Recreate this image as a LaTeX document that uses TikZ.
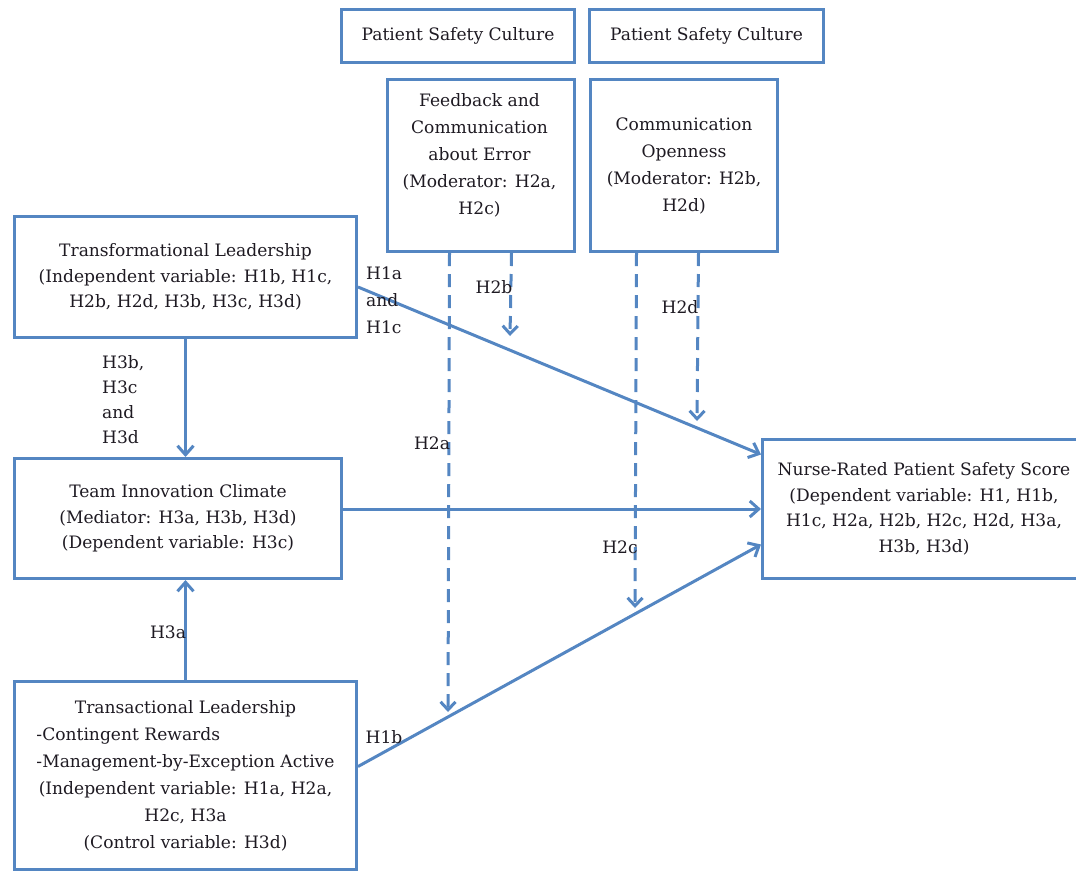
\documentclass[tikz,border=0pt]{standalone}
\usepackage{fontspec}
\setmainfont{DejaVu Serif}
\usetikzlibrary{arrows.meta,shadows}
\definecolor{lblue}{RGB}{84,134,194}
\definecolor{txtc}{RGB}{30,26,34}
\newcommand\myfs{\fontsize{17.1}{25.5}\selectfont}
\newcommand\myfsb{\fontsize{17.1}{27}\selectfont}
\begin{document}
\begin{tikzpicture}[x=1pt,y=-1pt,
  box/.style={draw=lblue, line width=3pt, fill=white, inner sep=0pt, text=txtc,
    font=\myfs, align=center, anchor=north west,
    drop shadow={shadow xshift=1.5pt, shadow yshift=-1.5pt, opacity=0.2}},
  txt/.style={text=txtc, font=\myfs, inner sep=0pt},
  arr/.style={draw=lblue, line width=3pt, -{Straight Barb[length=9pt,width=16pt]}},
  darr/.style={draw=lblue, line width=3pt, dash pattern=on 13pt off 8pt, -{Straight Barb[length=8pt,width=15pt]}}]
\useasboundingbox (0,0) rectangle (1076,871);
\clip (0,0) rectangle (1076,871);
% boxes
\node[box, minimum width=233pt, minimum height=53pt] (psc1) at (340,8) {Patient Safety Culture};
\node[box, minimum width=234pt, minimum height=53pt] (psc2) at (588,8) {Patient Safety Culture};
\node[box, minimum width=187pt, minimum height=172pt] (fb) at (386,78) {};
\node[txt, font=\myfsb, align=center] (fbt) at (479.5,155) {Feedback and\\Communication\\about Error\\(Moderator: H2a,\\H2c)};
\node[box, minimum width=187pt, minimum height=172pt, font=\myfsb] (co) at (589,78) {Communication\\Openness\\(Moderator: H2b,\\H2d)};
\node[box, minimum width=342pt, minimum height=121pt] (tl) at (13,215) {Transformational Leadership\\(Independent variable: H1b, H1c,\\H2b, H2d, H3b, H3c, H3d)};
\node[box, minimum width=327pt, minimum height=120pt] (tic) at (13,457) {Team Innovation Climate\\(Mediator: H3a, H3b, H3d)\\(Dependent variable: H3c)};
\node[box, minimum width=342pt, minimum height=188pt, font=\myfsb] (tr) at (13,680) {\begin{tabular}{@{}c@{}}Transactional Leadership\\ \multicolumn{1}{@{}l@{}}{-Contingent Rewards}\\ \multicolumn{1}{@{}l@{}}{-Management-by-Exception Active}\\ (Independent variable: H1a, H2a,\\ H2c, H3a\\ (Control variable: H3d)\end{tabular}};
\node[box, minimum width=323pt, minimum height=139pt] (nr) at (761,438) {Nurse-Rated Patient Safety Score\\(Dependent variable: H1, H1b,\\H1c, H2a, H2b, H2c, H2d, H3a,\\H3b, H3d)};
% solid arrows
\draw[arr] (tl.south) -- (tl.south |- tic.north);
\draw[arr] (tr.north) -- (tr.north |- tic.south);
\draw[arr] ([yshift=-10pt]tl.east) -- ([yshift=54.5pt]nr.west);
\draw[arr] (tic.east |- nr.west) -- (nr.west);
\draw[arr] ([yshift=9pt]tr.east) -- ([yshift=-35.5pt]nr.west);
% dashed moderator arrows
\coordinate (d1e) at (448,712);
\coordinate (d2e) at (510,336);
\coordinate (d3e) at (635,608);
\coordinate (d4e) at (697,421);
\draw[darr] ([xshift=-31.5pt]fb.south) -- (d1e);
\draw[darr] ([xshift=30.5pt]fb.south) -- (d2e);
\draw[darr] ([xshift=-47.5pt]co.south) -- (d3e);
\draw[darr] ([xshift=14.5pt]co.south) -- (d4e);
% labels
\node[txt, font=\myfsb, align=left, anchor=west] (l1) at (366,300) {H1a\\and\\H1c};
\node[txt, font=\fontsize{17.1}{25}\selectfont, align=left, anchor=west] (l2) at (102,400) {H3b,\\H3c\\and\\H3d};
\node[txt] (l3) at (168,632) {H3a};
\node[txt] (l4) at (384,737) {H1b};
\node[txt] (l5) at (494,287) {H2b};
\node[txt] (l6) at (680,307) {H2d};
\node[txt] (l7) at (432,443) {H2a};
\node[txt] (l8) at (620,547) {H2c};
\end{tikzpicture}
\end{document}
